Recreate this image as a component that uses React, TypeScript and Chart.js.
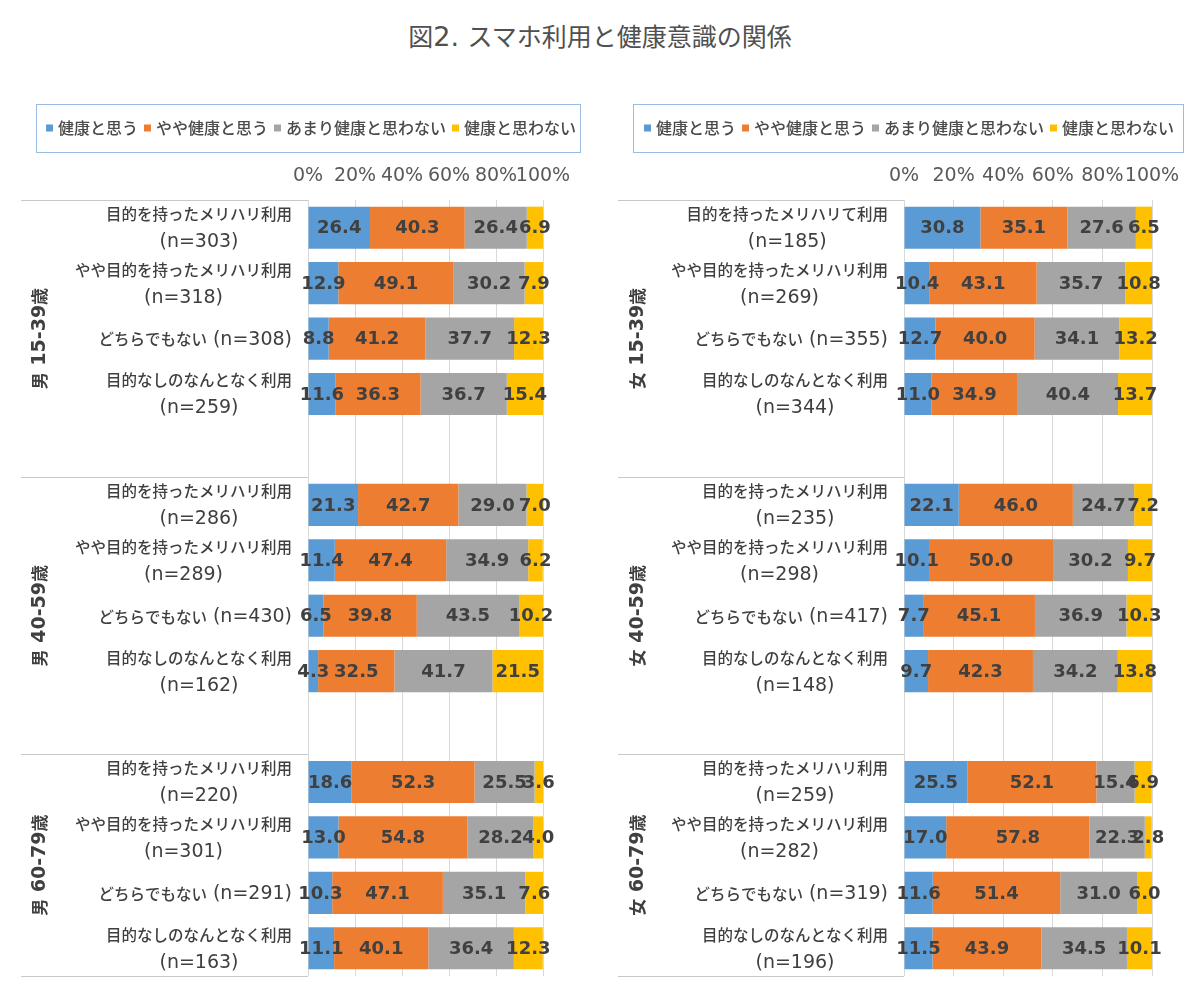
import React, { useEffect, useRef } from "react";
import { Chart, registerables } from "chart.js";

Chart.register(...registerables);

// ---------------- data ----------------
const TITLE_PARTS = ["図", "2. ", "スマホ利用と健康意識の関係"];
const SERIES_NAMES = ["健康と思う", "やや健康と思う", "あまり健康と思わない", "健康と思わない"];
const SERIES_COLORS = ["#5B9BD5", "#ED7D31", "#A5A5A5", "#FFC000"];
const X_TICK_STEP = 20;

const MALE_GROUPS = ["男 15-39歳", "男 40-59歳", "男 60-79歳"];
const FEMALE_GROUPS = ["女 15-39歳", "女 40-59歳", "女 60-79歳"];

const MALE_CATEGORIES = [
  ["目的を持ったメリハリ利用", "(n=303)"],
  ["やや目的を持ったメリハリ利用", "(n=318)"],
  ["どちらでもない (n=308)"],
  ["目的なしのなんとなく利用", "(n=259)"],
  ["目的を持ったメリハリ利用", "(n=286)"],
  ["やや目的を持ったメリハリ利用", "(n=289)"],
  ["どちらでもない (n=430)"],
  ["目的なしのなんとなく利用", "(n=162)"],
  ["目的を持ったメリハリ利用", "(n=220)"],
  ["やや目的を持ったメリハリ利用", "(n=301)"],
  ["どちらでもない (n=291)"],
  ["目的なしのなんとなく利用", "(n=163)"],
];
const FEMALE_CATEGORIES = [
  ["目的を持ったメリハリて利用", "(n=185)"],
  ["やや目的を持ったメリハリ利用", "(n=269)"],
  ["どちらでもない (n=355)"],
  ["目的なしのなんとなく利用", "(n=344)"],
  ["目的を持ったメリハリ利用", "(n=235)"],
  ["やや目的を持ったメリハリ利用", "(n=298)"],
  ["どちらでもない (n=417)"],
  ["目的なしのなんとなく利用", "(n=148)"],
  ["目的を持ったメリハリ利用", "(n=259)"],
  ["やや目的を持ったメリハリ利用", "(n=282)"],
  ["どちらでもない (n=319)"],
  ["目的なしのなんとなく利用", "(n=196)"],
];

const MALE_HEALTHY = [26.4, 12.9, 8.8, 11.6, 21.3, 11.4, 6.5, 4.3, 18.6, 13.0, 10.3, 11.1];
const MALE_SOMEWHAT = [40.3, 49.1, 41.2, 36.3, 42.7, 47.4, 39.8, 32.5, 52.3, 54.8, 47.1, 40.1];
const MALE_NOT_MUCH = [26.4, 30.2, 37.7, 36.7, 29.0, 34.9, 43.5, 41.7, 25.5, 28.2, 35.1, 36.4];
const MALE_NOT = [6.9, 7.9, 12.3, 15.4, 7.0, 6.2, 10.2, 21.5, 3.6, 4.0, 7.6, 12.3];

const FEMALE_HEALTHY = [30.8, 10.4, 12.7, 11.0, 22.1, 10.1, 7.7, 9.7, 25.5, 17.0, 11.6, 11.5];
const FEMALE_SOMEWHAT = [35.1, 43.1, 40.0, 34.9, 46.0, 50.0, 45.1, 42.3, 52.1, 57.8, 51.4, 43.9];
const FEMALE_NOT_MUCH = [27.6, 35.7, 34.1, 40.4, 24.7, 30.2, 36.9, 34.2, 15.4, 22.3, 31.0, 34.5];
const FEMALE_NOT = [6.5, 10.8, 13.2, 13.7, 7.2, 9.7, 10.3, 13.8, 6.9, 2.8, 6.0, 10.1];

const ROWS_PER_GROUP = 4;

// ---------------- text helpers ----------------
const CJK_FONT = '"Noto Sans CJK JP"';
const LATIN_FONT = '"DejaVu Sans"';

type TextStyle = { cjk: number; latin: number; weight?: string; color: string };
type Run = { t: string; cjk: boolean };

function isCjk(ch: string) {
  return /[\u2E80-\u9FFF\uF900-\uFAFF\uFF00-\uFFEF\u3000-\u303F]/.test(ch);
}
function runsOf(text: string): Run[] {
  const runs: Run[] = [];
  for (const ch of Array.from(text)) {
    const c = isCjk(ch);
    const last = runs[runs.length - 1];
    if (last && last.cjk === c) last.t += ch;
    else runs.push({ t: ch, cjk: c });
  }
  return runs;
}
function fontFor(r: Run, st: TextStyle) {
  return `${st.weight || "normal"} ${r.cjk ? st.cjk : st.latin}px ${r.cjk ? CJK_FONT : LATIN_FONT}`;
}
function measureMixed(ctx: CanvasRenderingContext2D, text: string, st: TextStyle) {
  let w = 0;
  for (const r of runsOf(text)) {
    ctx.font = fontFor(r, st);
    w += ctx.measureText(r.t).width;
  }
  return w;
}
function drawMixed(
  ctx: CanvasRenderingContext2D,
  text: string,
  x: number,
  y: number,
  align: "left" | "center" | "right",
  st: TextStyle
) {
  const w = measureMixed(ctx, text, st);
  let cx = align === "left" ? x : align === "center" ? x - w / 2 : x - w;
  ctx.textAlign = "left";
  ctx.textBaseline = "middle";
  ctx.fillStyle = st.color;
  for (const r of runsOf(text)) {
    ctx.font = fontFor(r, st);
    ctx.fillText(r.t, cx, y);
    cx += ctx.measureText(r.t).width;
  }
}

// ---------------- slots (blank row after each group except last) ----------------
function toSlots<T>(arr: T[], blank: T): T[] {
  const out: T[] = [];
  arr.forEach((v, i) => {
    if (i > 0 && i % ROWS_PER_GROUP === 0) out.push(blank);
    out.push(v);
  });
  return out;
}

type Geo = {
  plotLeft: number;
  plotRight: number;
  plotTop: number;
  plotBottom: number;
  labelRight: number;
  groupX: number;
  sepLeft: number;
  legendBox: [number, number, number, number];
  legendStartX: number;
};

type PanelSpec = {
  groups: string[];
  categories: string[][];
  series: number[][];
  geo: Geo;
};

const LABEL_STYLE: TextStyle = { cjk: 15.5, latin: 19, weight: "500", color: "#3F3F3F" };
const GROUP_STYLE: TextStyle = { cjk: 17, latin: 19, weight: "bold", color: "#404040" };
const LEGEND_STYLE: TextStyle = { cjk: 16, latin: 17, weight: "500", color: "#4A4A4A" };

function buildConfig(spec: PanelSpec): any {
  const { geo } = spec;
  const slotCats = toSlots<string[] | null>(spec.categories, null);
  const labels = slotCats.map((c) => (c ? c.join(" ") : ""));
  const AXIS_H = 40;

  const overlay = {
    id: "panelOverlay",
    afterDatasetsDraw(chart: any) {
      const ctx: CanvasRenderingContext2D = chart.ctx;
      ctx.save();
      ctx.font = `bold 18px ${LATIN_FONT}`;
      ctx.fillStyle = "#404040";
      ctx.textAlign = "center";
      ctx.textBaseline = "middle";
      chart.data.datasets.forEach((ds: any, di: number) => {
        const meta = chart.getDatasetMeta(di);
        meta.data.forEach((el: any, i: number) => {
          const v = ds.data[i];
          if (v == null) return;
          const p = el.getProps(["x", "base", "y"], true);
          ctx.fillText(Number(v).toFixed(1), (p.x + p.base) / 2, p.y + 1);
        });
      });
      ctx.restore();
    },
    afterDraw(chart: any) {
      const ctx: CanvasRenderingContext2D = chart.ctx;
      const ys = chart.scales.y;
      const area = chart.chartArea;
      ctx.save();

      // category labels
      slotCats.forEach((lines, s) => {
        if (!lines) return;
        const cy = ys.getPixelForValue(s);
        const widths = lines.map((l) => measureMixed(ctx, l, LABEL_STYLE));
        const maxW = Math.max(...widths);
        const cx = geo.labelRight - maxW / 2;
        if (lines.length === 1) {
          drawMixed(ctx, lines[0], cx, cy + 1, "center", LABEL_STYLE);
        } else {
          drawMixed(ctx, lines[0], cx, cy - 13.5, "center", LABEL_STYLE);
          drawMixed(ctx, lines[1], cx, cy + 14.5, "center", LABEL_STYLE);
        }
      });

      // group separators and group labels
      const nGroups = spec.groups.length;
      const slotsPerGroup = ROWS_PER_GROUP + 1;
      ctx.strokeStyle = "#C8C8C8";
      ctx.lineWidth = 1;
      const sepYs: number[] = [area.top];
      for (let g = 1; g < nGroups; g++) {
        const s = g * slotsPerGroup;
        sepYs.push((ys.getPixelForValue(s - 1) + ys.getPixelForValue(s)) / 2);
      }
      sepYs.push(area.bottom);
      sepYs.forEach((y) => {
        const yy = Math.round(y) + 0.5;
        ctx.beginPath();
        ctx.moveTo(geo.sepLeft, yy);
        ctx.lineTo(area.left, yy);
        ctx.stroke();
      });
      spec.groups.forEach((name, g) => {
        const start = g * slotsPerGroup;
        const end = g < nGroups - 1 ? start + ROWS_PER_GROUP : start + ROWS_PER_GROUP - 1;
        const cy = (ys.getPixelForValue(start) + ys.getPixelForValue(end)) / 2;
        ctx.save();
        ctx.translate(geo.groupX, cy);
        ctx.rotate(-Math.PI / 2);
        drawMixed(ctx, name, 0, 0, "center", GROUP_STYLE);
        ctx.restore();
      });

      // legend
      const [bx0, by0, bx1, by1] = geo.legendBox;
      ctx.strokeStyle = "#9BBBE0";
      ctx.lineWidth = 1;
      ctx.strokeRect(bx0 + 0.5, by0 + 0.5, bx1 - bx0, by1 - by0);
      const lcy = (by0 + by1) / 2;
      let x = geo.legendStartX;
      chart.data.datasets.forEach((ds: any) => {
        ctx.fillStyle = ds.backgroundColor;
        ctx.fillRect(x, lcy - 3.5, 7, 7);
        x += 12;
        drawMixed(ctx, ds.label, x, lcy, "left", LEGEND_STYLE);
        x += measureMixed(ctx, ds.label, LEGEND_STYLE) + 6;
      });

      ctx.restore();
    },
  };

  return {
    type: "bar",
    data: {
      labels,
      datasets: SERIES_NAMES.map((name, k) => ({
        label: name,
        data: toSlots<number | null>(spec.series[k], null),
        backgroundColor: SERIES_COLORS[k],
        borderWidth: 0,
        barPercentage: 0.76,
        categoryPercentage: 1,
      })),
    },
    options: {
      indexAxis: "y",
      responsive: false,
      maintainAspectRatio: false,
      animation: false,
      devicePixelRatio: 1,
      layout: {
        padding: {
          left: geo.plotLeft,
          right: 600 - geo.plotRight,
          top: geo.plotTop - AXIS_H,
          bottom: 1000 - geo.plotBottom,
        },
      },
      plugins: {
        legend: { display: false },
        tooltip: { enabled: false },
        title: { display: false },
      },
      scales: {
        x: {
          type: "linear",
          position: "top",
          stacked: true,
          min: 0,
          max: 100,
          afterFit: (scale: any) => {
            scale.height = AXIS_H;
          },
          border: { display: false },
          grid: { color: "#D9D9D9", lineWidth: 1, drawTicks: false },
          ticks: {
            stepSize: X_TICK_STEP,
            autoSkip: false,
            maxRotation: 0,
            padding: 13,
            color: "#595959",
            font: { family: "'DejaVu Sans'", size: 19 },
            callback: (v: any) => `${v}%`,
          },
        },
        y: {
          type: "category",
          stacked: true,
          display: false,
          offset: true,
          grid: { display: false },
        },
      },
    },
    plugins: [overlay],
  };
}

const MALE_SPEC: PanelSpec = {
  groups: MALE_GROUPS,
  categories: MALE_CATEGORIES,
  series: [MALE_HEALTHY, MALE_SOMEWHAT, MALE_NOT_MUCH, MALE_NOT],
  geo: {
    plotLeft: 308,
    plotRight: 543,
    plotTop: 200,
    plotBottom: 976,
    labelRight: 292,
    groupX: 40,
    sepLeft: 21,
    legendBox: [36, 104, 580, 152],
    legendStartX: 46,
  },
};

const FEMALE_SPEC: PanelSpec = {
  groups: FEMALE_GROUPS,
  categories: FEMALE_CATEGORIES,
  series: [FEMALE_HEALTHY, FEMALE_SOMEWHAT, FEMALE_NOT_MUCH, FEMALE_NOT],
  geo: {
    plotLeft: 304,
    plotRight: 552,
    plotTop: 200,
    plotBottom: 976,
    labelRight: 288,
    groupX: 38,
    sepLeft: 18,
    legendBox: [33, 104, 583, 152],
    legendStartX: 44,
  },
};

function Panel({ spec, left }: { spec: PanelSpec; left: number }) {
  const ref = useRef<HTMLCanvasElement>(null);
  useEffect(() => {
    const chart = new Chart(ref.current as HTMLCanvasElement, buildConfig(spec));
    return () => chart.destroy();
  }, [spec]);
  return (
    <canvas
      ref={ref}
      width={600}
      height={1000}
      style={{ position: "absolute", left, top: 0, width: 600, height: 1000 }}
    />
  );
}

export default function App() {
  return (
    <div
      style={{
        position: "absolute",
        left: 0,
        top: 0,
        width: 1200,
        height: 1000,
        background: "#FFFFFF",
        overflow: "hidden",
      }}
    >
      <div
        style={{
          position: "absolute",
          left: 0,
          top: 15,
          width: 1200,
          lineHeight: "40px",
          textAlign: "center",
          color: "#505050",
          whiteSpace: "nowrap",
        }}
      >
        <span style={{ fontFamily: "'Noto Sans CJK JP'", fontSize: 25 }}>{TITLE_PARTS[0]}</span>
        <span style={{ fontFamily: "'DejaVu Sans'", fontSize: 27, whiteSpace: "pre" }}>{TITLE_PARTS[1]}</span>
        <span style={{ fontFamily: "'Noto Sans CJK JP'", fontSize: 25 }}>{TITLE_PARTS[2]}</span>
      </div>
      <Panel spec={MALE_SPEC} left={0} />
      <Panel spec={FEMALE_SPEC} left={600} />
    </div>
  );
}
